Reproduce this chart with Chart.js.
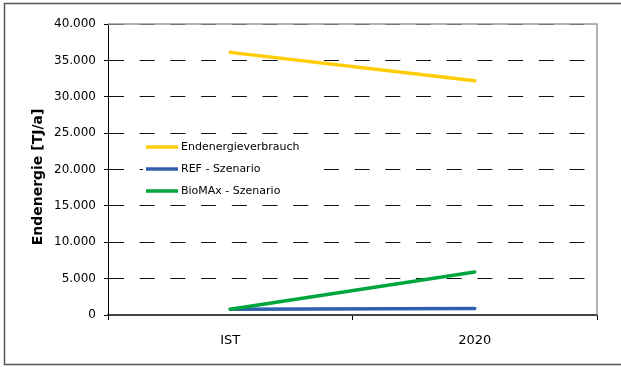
<!DOCTYPE html>
<html>
<head>
<meta charset="utf-8">
<script src="https://cdn.jsdelivr.net/npm/chart.js@4/dist/chart.umd.min.js"></script>
<style>
  html, body { margin: 0; padding: 0; background: #fff; overflow: hidden; }
  #wrap { width: 621px; height: 367px; }
</style>
</head>
<body>
<div id="wrap"><canvas id="c" width="621" height="367"></canvas></div>
<script>
// Endenergie in TJ/a
const categories = ['IST', '2020'];
const seriesNames = ['Endenergieverbrauch', 'REF - Szenario', 'BioMAx - Szenario'];
const endenergieverbrauch = [36100, 32200];
const refSzenario = [800, 900];
const biomaxSzenario = [800, 5900];
const yTicks = [0, 5000, 10000, 15000, 20000, 25000, 30000, 35000, 40000];
const yTitle = 'Endenergie [TJ/a]';

const FONT = 'DejaVu Sans';

function formatDe(v) {
  return String(v).replace(/\B(?=(\d{3})+(?!\d))/g, '.');
}

// Outer frame, plot frame, axis title and in-plot legend
const framePlugin = {
  id: 'frame',
  beforeDraw(chart) {
    const ctx = chart.ctx;
    ctx.save();
    ctx.fillStyle = '#fff';
    ctx.fillRect(0, 0, chart.width, chart.height);
    // open-ended frame: left, top and bottom edges
    ctx.strokeStyle = '#555';
    ctx.lineWidth = 1.5;
    ctx.beginPath();
    ctx.moveTo(chart.width, 3.5);
    ctx.lineTo(4.5, 3.5);
    ctx.lineTo(4.5, 364.5);
    ctx.lineTo(chart.width, 364.5);
    ctx.stroke();
    ctx.restore();
  },
  afterDraw(chart) {
    const ctx = chart.ctx;
    const a = chart.chartArea;
    ctx.save();
    // grey top/right plot border
    ctx.strokeStyle = '#999';
    ctx.lineWidth = 1.5;
    ctx.beginPath();
    ctx.moveTo(a.left, a.top);
    ctx.lineTo(a.right, a.top);
    ctx.lineTo(a.right, a.bottom);
    ctx.stroke();
    // rotated y-axis title
    ctx.translate(38, 177);
    ctx.rotate(-Math.PI / 2);
    ctx.font = 'bold 14px "' + FONT + '"';
    ctx.fillStyle = '#000';
    ctx.textAlign = 'center';
    ctx.textBaseline = 'middle';
    ctx.fillText(yTitle, 0, 0);
    ctx.restore();
  },
  afterDatasetsDraw(chart) {
    const ctx = chart.ctx;
    const x0 = 143, y0 = 137;
    ctx.save();
    ctx.fillStyle = '#fff';
    ctx.fillRect(x0, y0, 168, 65);
    ctx.font = '11px "' + FONT + '"';
    ctx.textBaseline = 'middle';
    chart.data.datasets.forEach((ds, i) => {
      const y = y0 + 10 + i * 22;
      ctx.strokeStyle = ds.borderColor;
      ctx.lineWidth = 3.5;
      ctx.beginPath();
      ctx.moveTo(x0 + 3, y);
      ctx.lineTo(x0 + 35, y);
      ctx.stroke();
      ctx.fillStyle = '#000';
      ctx.fillText(ds.label, x0 + 38, y);
    });
    ctx.restore();
  }
};

new Chart(document.getElementById('c'), {
  type: 'line',
  data: {
    labels: categories,
    datasets: [
      { label: seriesNames[0], data: endenergieverbrauch, borderColor: '#FFCC00', order: 2 },
      { label: seriesNames[1], data: refSzenario, borderColor: '#2F5FAC', order: 1 },
      { label: seriesNames[2], data: biomaxSzenario, borderColor: '#00A63C', order: 0 }
    ]
  },
  options: {
    responsive: false,
    animation: false,
    devicePixelRatio: 1,
    layout: { padding: { left: 31, top: 24, right: 24, bottom: 0 } },
    elements: {
      line: { borderWidth: 3.5, tension: 0, fill: false, borderCapStyle: 'round' },
      point: { radius: 0, hoverRadius: 0 }
    },
    plugins: {
      legend: { display: false },
      tooltip: { enabled: false }
    },
    scales: {
      x: {
        type: 'category',
        offset: true,
        grid: {
          offset: true,
          drawOnChartArea: false,
          drawTicks: true,
          tickLength: 5,
          tickColor: '#000',
          tickWidth: 1
        },
        border: { display: true, color: '#444', width: 2 },
        ticks: {
          color: '#000',
          font: { family: FONT, size: 13 },
          padding: 13,
          maxRotation: 0
        },
        afterFit(scale) { scale.height = 52; }
      },
      y: {
        min: 0,
        max: 40000,
        afterBuildTicks(scale) { scale.ticks = yTicks.map(v => ({ value: v })); },
        grid: {
          color: '#111',
          lineWidth: 1,
          drawTicks: true,
          tickLength: 4,
          tickColor: '#000',
          tickBorderDash: [],
          drawOnChartArea: true
        },
        border: { display: true, color: '#000', width: 1, dash: [15, 15.7] },
        ticks: {
          color: '#000',
          font: { family: FONT, size: 12 },
          padding: 8,
          callback: v => formatDe(v)
        },
        title: { display: false },
        afterFit(scale) { scale.width = 77; }
      }
    }
  },
  plugins: [framePlugin]
});
</script>
</body>
</html>
